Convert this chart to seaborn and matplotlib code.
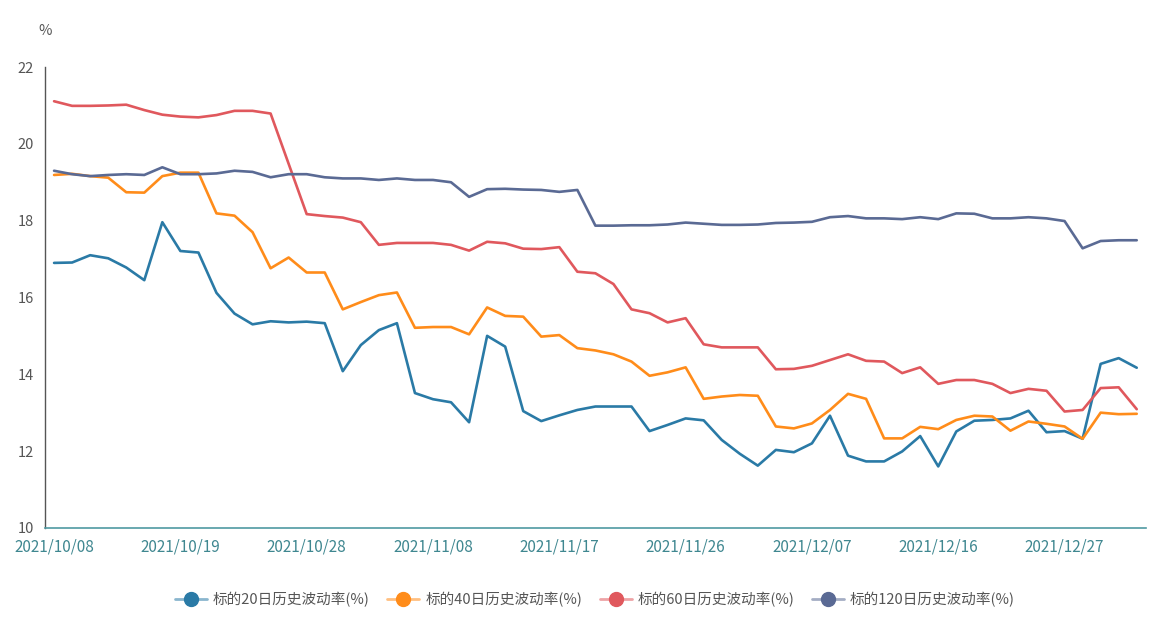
import numpy as np
import pandas as pd
import seaborn as sns
import matplotlib.pyplot as plt
from matplotlib.lines import Line2D
from matplotlib.legend_handler import HandlerTuple

# trading days 2021/10/08 - 2021/12/31 (no holidays in between)
dates = pd.bdate_range("2021-10-08", "2021-12-31").strftime("%Y/%m/%d").tolist()

series_names = ["标的20日历史波动率(%)", "标的40日历史波动率(%)",
                "标的60日历史波动率(%)", "标的120日历史波动率(%)"]
colors = ["#2a7aa6", "#ff8c1a", "#e0585d", "#5a6a94"]

vol20 = [16.90, 16.91, 17.10, 17.02, 16.78, 16.45, 17.96, 17.21, 17.17, 16.12,
         15.58, 15.30, 15.38, 15.35, 15.37, 15.33, 14.08, 14.76, 15.15, 15.33,
         13.51, 13.35, 13.27, 12.75, 15.00, 14.72, 13.04, 12.78, 12.93, 13.07,
         13.16, 13.16, 13.16, 12.52, 12.68, 12.85, 12.80, 12.29, 11.93, 11.62,
         12.03, 11.97, 12.20, 12.92, 11.88, 11.73, 11.73, 11.99, 12.39, 11.60,
         12.51, 12.79, 12.81, 12.85, 13.05, 12.49, 12.52, 12.32, 14.27, 14.42,
         14.17]
vol40 = [19.19, 19.22, 19.16, 19.12, 18.74, 18.73, 19.16, 19.25, 19.25, 18.19,
         18.13, 17.70, 16.76, 17.04, 16.65, 16.65, 15.69, 15.88, 16.06, 16.13,
         15.21, 15.23, 15.23, 15.04, 15.74, 15.52, 15.50, 14.98, 15.02, 14.68,
         14.62, 14.52, 14.33, 13.96, 14.05, 14.18, 13.36, 13.42, 13.46, 13.44,
         12.64, 12.59, 12.72, 13.07, 13.49, 13.36, 12.33, 12.33, 12.63, 12.57,
         12.81, 12.92, 12.90, 12.53, 12.77, 12.71, 12.64, 12.32, 13.00, 12.96,
         12.97]
vol60 = [21.11, 20.99, 20.99, 21.00, 21.02, 20.88, 20.76, 20.71, 20.69, 20.75,
         20.86, 20.86, 20.79, 19.48, 18.17, 18.12, 18.08, 17.96, 17.37, 17.42,
         17.42, 17.42, 17.37, 17.22, 17.45, 17.41, 17.27, 17.26, 17.31, 16.67,
         16.63, 16.35, 15.69, 15.59, 15.35, 15.46, 14.78, 14.70, 14.70, 14.70,
         14.13, 14.14, 14.22, 14.37, 14.52, 14.35, 14.33, 14.03, 14.18, 13.75,
         13.85, 13.85, 13.75, 13.51, 13.62, 13.57, 13.03, 13.07, 13.64, 13.66,
         13.09]
vol120 = [19.30, 19.21, 19.16, 19.19, 19.21, 19.19, 19.39, 19.21, 19.21, 19.23,
          19.30, 19.27, 19.13, 19.21, 19.21, 19.13, 19.10, 19.10, 19.06, 19.10,
          19.06, 19.06, 19.00, 18.62, 18.82, 18.83, 18.81, 18.80, 18.75, 18.80,
          17.87, 17.87, 17.88, 17.88, 17.90, 17.95, 17.92, 17.89, 17.89, 17.90,
          17.94, 17.95, 17.97, 18.09, 18.12, 18.06, 18.06, 18.04, 18.09, 18.04,
          18.19, 18.18, 18.06, 18.06, 18.09, 18.06, 17.99, 17.28, 17.47, 17.49,
          17.49]

label_every = 7

frames = []
for name, vals in zip(series_names, [vol20, vol40, vol60, vol120]):
    frames.append(pd.DataFrame({"pos": np.arange(len(dates)), "date": dates,
                                "value": vals, "series": name}))
df = pd.concat(frames, ignore_index=True)

sns.set_theme(style="white")
plt.rcParams["font.family"] = ["Noto Sans CJK SC", "DejaVu Sans"]

fig = plt.figure(figsize=(11.55, 6.21), dpi=100)
ax = fig.add_axes([0.039, 0.150, 0.953, 0.742])

sns.lineplot(data=df, x="pos", y="value", hue="series", palette=colors,
             linewidth=1.9, ax=ax, legend=False)

n = len(dates)
ax.set_xlim(-0.5, n - 0.5)
ax.set_ylim(10, 22)
ax.set_yticks(range(10, 23, 2))

label_pos = list(range(0, n, label_every))
ax.set_xticks([p - 0.5 for p in label_pos] + [n - 0.5])
ax.set_xticklabels([])
ax.set_xticks(label_pos, minor=True)
ax.set_xticklabels([dates[p] for p in label_pos], minor=True)
ax.tick_params(axis="x", which="major", length=5, width=1, color="#4f9aa2", direction="out")
ax.tick_params(axis="x", which="minor", length=0, pad=8, labelsize=11, labelcolor="#3f8790")
ax.tick_params(axis="y", length=5, width=1, color="#555555", direction="out",
               labelsize=10.5, labelcolor="#555555", pad=3)

for s in ["top", "right"]:
    ax.spines[s].set_visible(False)
ax.spines["bottom"].set_color("#4f9aa2")
ax.spines["bottom"].set_linewidth(1.2)
ax.spines["left"].set_color("#555555")
ax.spines["left"].set_linewidth(1.0)
ax.set_xlabel("")
ax.set_ylabel("")
ax.grid(False)

ax.text(0, 1.078, "%", transform=ax.transAxes, ha="center", va="center",
        fontsize=10.5, color="#555555")

handles = []
for c in colors:
    handles.append((Line2D([], [], color=c, lw=2, alpha=0.55),
                    Line2D([], [], color=c, marker="o", ls="", ms=10)))
fig.legend(handles, series_names, loc="center", bbox_to_anchor=(0.515, 0.034),
           ncol=4, frameon=False, fontsize=10.5, labelcolor="#555555",
           handler_map={tuple: HandlerTuple(ndivide=1)}, handlelength=2.2,
           handletextpad=0.4, columnspacing=1.2)

fig.savefig("out.png", dpi=100)
